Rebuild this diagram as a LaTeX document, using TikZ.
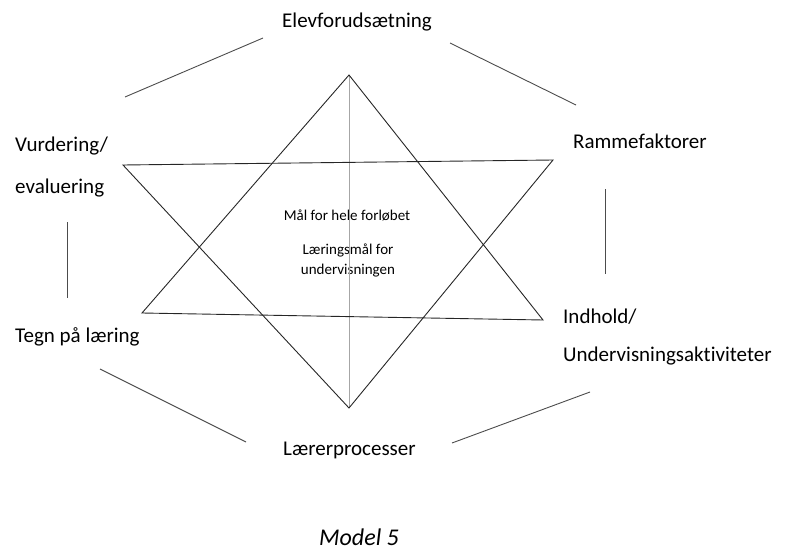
\documentclass[tikz,border=0pt]{standalone}
\usepackage{fontspec}
\setmainfont{Carlito}[Ligatures=NoCommon]
\usetikzlibrary{positioning}

\tikzset{
  lbl/.style={font=\fontsize{21}{25}\selectfont, inner sep=0pt, anchor=base west},
  midtxt/.style={font=\fontsize{15}{20}\selectfont, inner sep=0pt, align=center},
  starline/.style={draw=black!85, line width=0.9pt},
  sideline/.style={draw=black!70, line width=0.9pt},
  midline/.style={draw=black!35, line width=0.8pt}
}

\begin{document}
\begin{tikzpicture}[x=1pt, y=-1pt]
  \useasboundingbox (0,0) rectangle (785,551);
  % labels
  \node[lbl] (elev) at (282,28) {Elevforudsætning};
  \node[lbl] (vurd) at (15,151) {Vurdering/};
  \node[lbl] (evalu) at (15,193) {evaluering};
  \node[lbl] (ramme) at (573,148) {Rammefaktorer};
  \node[lbl] (tegn) at (15,342) {Tegn på læring};
  \node[lbl] (indh) at (563,323) {Indhold/};
  \node[lbl] (underv) at (563,361) {Undervisningsaktiviteter};
  \node[lbl] (laerer) at (283,455) {Lærerprocesser};
  \node[lbl, anchor=base, font=\fontsize{24}{28}\selectfont\itshape] (model) at (359,545) {Model 5};
  \node[midtxt] (maal) at (347,215) {Mål for hele forløbet};
  \node[midtxt] (laering) at (348,260) {Læringsmål for\\undervisningen};
  % star
  \coordinate (uptop) at (349,75);
  \coordinate (upleft) at (142,313);
  \coordinate (upright) at (543,320);
  \coordinate (dnleft) at (123,165);
  \coordinate (dnright) at (553,160);
  \coordinate (dnbot) at (349,408);
  \draw[midline] (uptop) -- (dnbot);
  \draw[starline] (uptop) -- (upright) -- (upleft) -- cycle;
  \draw[starline] (dnleft) -- (dnright) -- (dnbot) -- cycle;
  % lines round the star
  \coordinate (a1) at (125,97);  \coordinate (a2) at (263,38);
  \coordinate (b1) at (450,43);  \coordinate (b2) at (576,105);
  \coordinate (c1) at (605,189); \coordinate (c2) at (605,274);
  \coordinate (d1) at (67,222);  \coordinate (d2) at (67,298);
  \coordinate (e1) at (100,369); \coordinate (e2) at (246,442);
  \coordinate (f1) at (452,443); \coordinate (f2) at (590,392);
  \draw[sideline] (a1) -- (a2);
  \draw[sideline] (b1) -- (b2);
  \draw[sideline] (c1) -- (c2);
  \draw[sideline] (d1) -- (d2);
  \draw[sideline] (e1) -- (e2);
  \draw[sideline] (f1) -- (f2);
\end{tikzpicture}
\end{document}
